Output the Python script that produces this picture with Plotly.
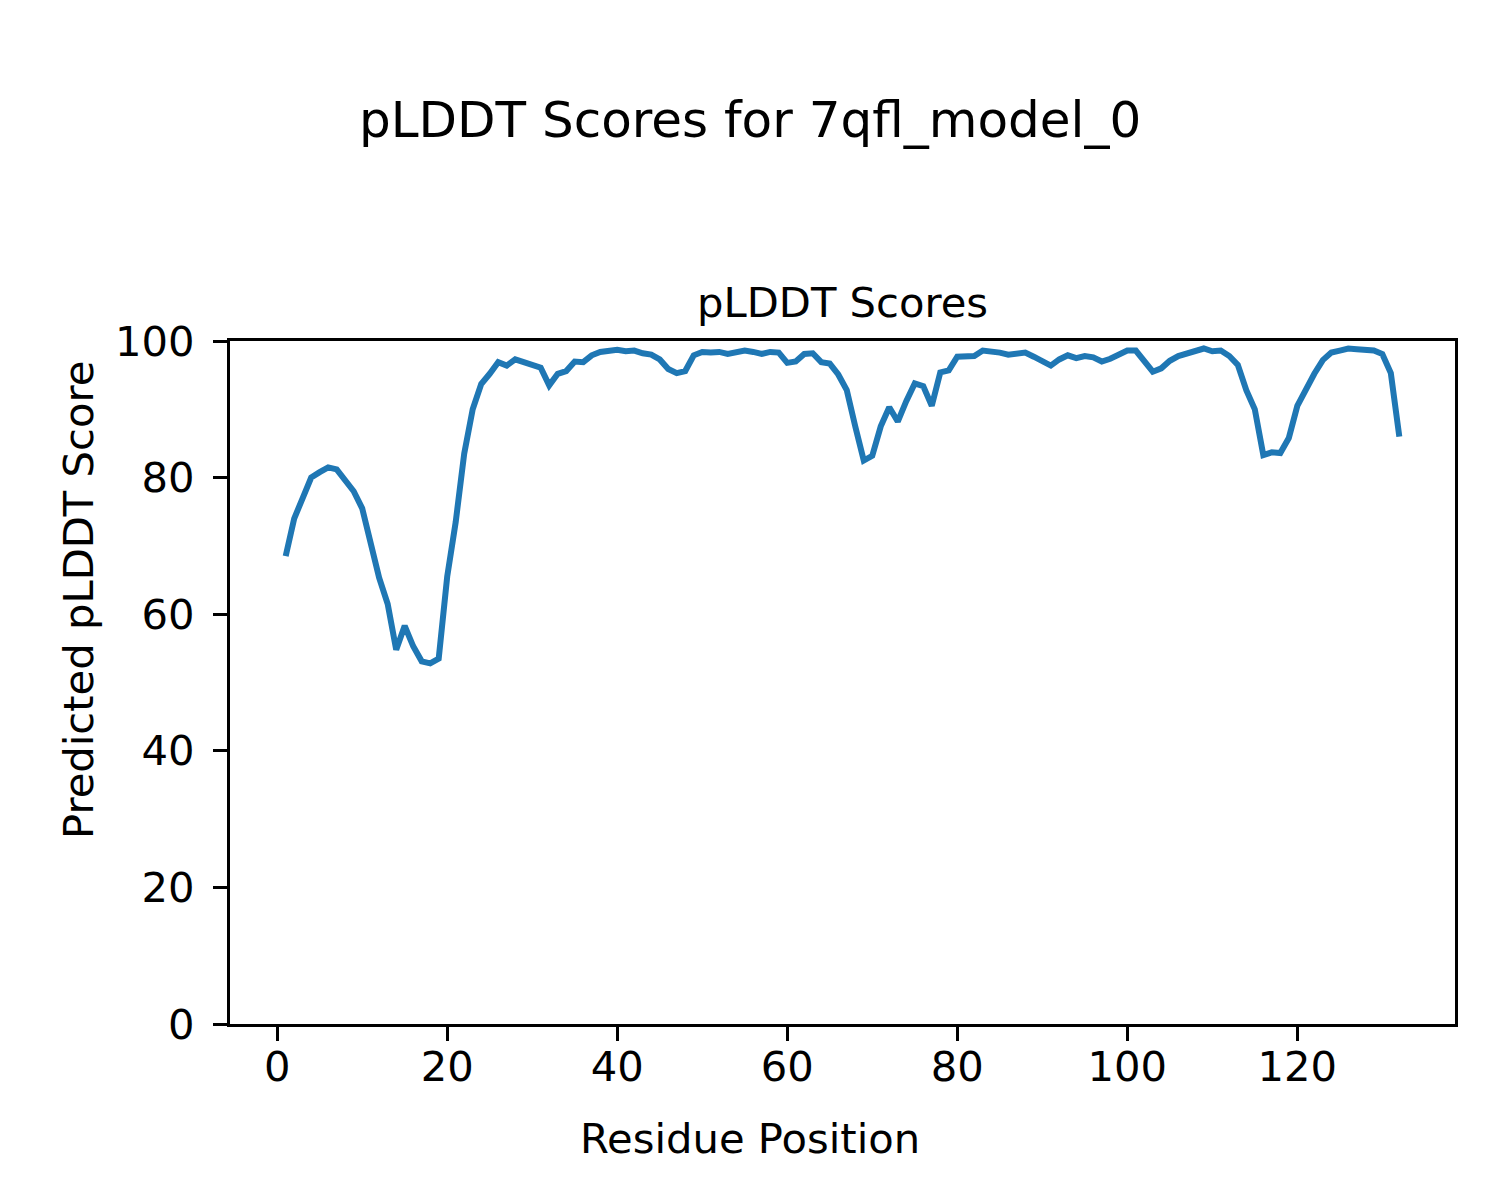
import plotly.graph_objects as go

residues = list(range(1, 133))
plddt = [
    68.5, 74.0, 77.0, 80.0, 80.8, 81.5, 81.2, 79.7, 78.0, 75.5,
    70.5, 65.3, 61.5, 54.8, 58.3, 55.3, 53.1, 52.8, 53.5, 65.5,
    73.5, 83.5, 90.0, 93.7, 95.2, 96.9, 96.4, 97.3, 96.9, 96.5,
    96.1, 93.5, 95.2, 95.6, 97.0, 96.9, 97.9, 98.4, 98.5, 98.7,
    98.5, 98.6, 98.2, 98.0, 97.3, 95.9, 95.3, 95.6, 97.9, 98.4,
    98.3, 98.4, 98.1, 98.3, 98.6, 98.4, 98.1, 98.4, 98.3, 96.8,
    97.0, 98.1, 98.2, 96.9, 96.7, 95.1, 92.8, 87.5, 82.5, 83.2,
    87.5, 90.3, 88.2, 91.2, 93.8, 93.4, 90.5, 95.4, 95.7, 97.7,
    97.8, 97.8, 98.6, 98.5, 98.3, 98.0, 98.2, 98.3, 97.7, 97.0,
    96.4, 97.3, 97.9, 97.5, 97.8, 97.6, 97.0, 97.4, 98.0, 98.6,
    98.6, 97.1, 95.5, 96.0, 97.1, 97.8, 98.1, 98.5, 98.9, 98.5,
    98.6, 97.8, 96.5, 92.8, 90.0, 83.3, 83.7, 83.6, 85.8, 90.5,
    93.0, 95.2, 97.2, 98.3, 98.6, 98.9, 98.8, 98.7, 98.6, 98.1,
    95.3, 86.0,
]

suptitle = "pLDDT Scores for 7qfl_model_0"
ax_title = "pLDDT Scores"
x_label = "Residue Position"
y_label = "Predicted pLDDT Score"
x_ticks = [0, 20, 40, 60, 80, 100, 120]
y_ticks = [0, 20, 40, 60, 80, 100]

FONT = "DejaVu Sans"
fs = 41.7
W, H = 1500, 1200
L, R, T, B = 222, 53, 333, 184
plot_w = W - L - R
plot_h = H - T - B
OFF = 8  # page offset of the figure

fig = go.Figure()
fig.add_trace(go.Scatter(x=residues, y=plddt, mode="lines",
                         line=dict(color="#1f77b4", width=6.0), showlegend=False))

axis_common = dict(showline=True, linecolor="black", linewidth=3.2, mirror=True,
                   ticks="outside", ticklen=14, tickwidth=3.2, tickcolor="black",
                   showgrid=False, zeroline=False,
                   tickfont=dict(family=FONT, size=fs, color="black"))

xmin, xmax = min(residues), max(residues)
pad = (xmax - xmin) * 0.05
fig.update_xaxes(range=[xmin - pad, xmax + pad], tickvals=x_ticks,
                 ticklabelstandoff=-10, **axis_common)
fig.update_yaxes(range=[0, 100], tickvals=y_ticks, ticklabelstandoff=10, **axis_common)

fig_cx = (W / 2 - OFF - L) / plot_w          # figure horizontal centre, paper coords
fig_cy = (H - B - (H / 2 - OFF)) / plot_h     # figure vertical centre, paper coords

fig.update_layout(
    width=W, height=H,
    margin=dict(l=L, r=R, t=T, b=B),
    plot_bgcolor="white", paper_bgcolor="white",
    font=dict(family=FONT, size=fs, color="black"),
    annotations=[
        dict(text=suptitle, x=fig_cx, y=1 + (341 - 120) / plot_h,
             xref="paper", yref="paper", showarrow=False, xanchor="center",
             yanchor="middle", font=dict(size=50)),
        dict(text=ax_title, x=0.5, y=1, xref="paper", yref="paper", showarrow=False,
             yanchor="bottom", yshift=12, font=dict(size=fs)),
        dict(text=x_label, x=fig_cx, y=0, xref="paper", yref="paper", showarrow=False,
             xanchor="center", yanchor="middle", yshift=-114, font=dict(size=fs)),
        dict(text=y_label, x=0, y=fig_cy, xref="paper", yref="paper", showarrow=False,
             xanchor="center", yanchor="middle", xshift=-152, textangle=-90,
             font=dict(size=fs)),
    ],
)

fig.write_html("out.html")
